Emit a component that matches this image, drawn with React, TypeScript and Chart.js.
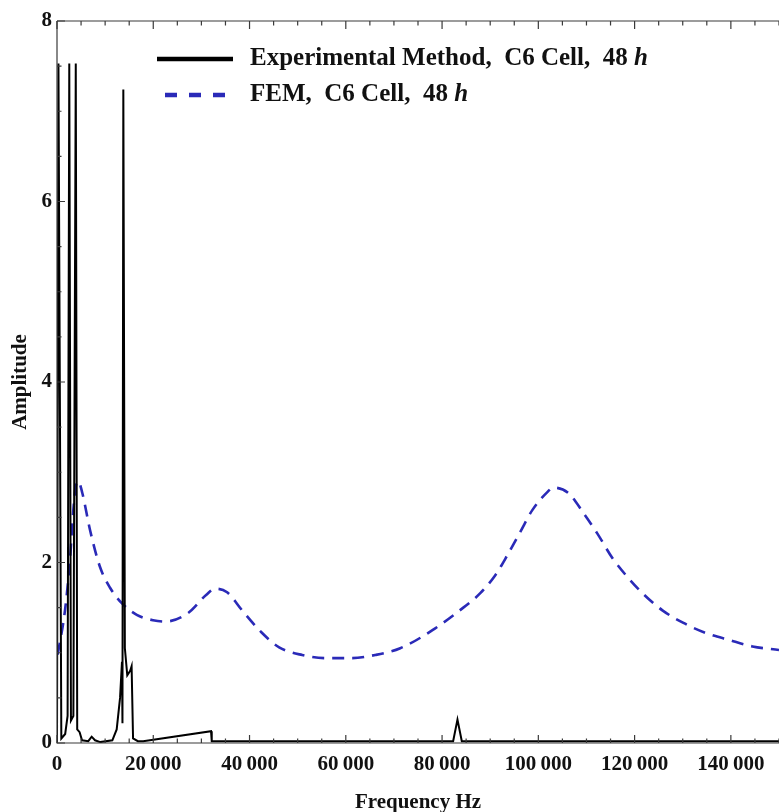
import React, { useEffect, useRef } from "react";
import { Chart, registerables } from "chart.js";

Chart.register(...registerables);

// Experimental Method, C6 Cell, 48 h
const expFreq = [0, 300, 900, 1700, 2200, 2550, 2900, 3400, 3900, 4200, 4700, 5200, 6500, 7200, 7900, 9000, 11500, 12400, 13100, 13500, 13600, 13780, 14100, 14600, 15200, 15500, 15800, 16800, 17900, 32000, 32150, 50000, 82300, 83200, 84100, 150000];
const expAmp = [0.0, 7.53, 0.05, 0.1, 0.3, 7.53, 0.25, 0.3, 7.53, 0.15, 0.12, 0.03, 0.02, 0.07, 0.03, 0.01, 0.03, 0.15, 0.5, 0.9, 0.22, 7.24, 1.05, 0.75, 0.8, 0.85, 0.05, 0.02, 0.02, 0.13, 0.02, 0.02, 0.02, 0.26, 0.02, 0.02];

// FEM, C6 Cell, 48 h
const femFreq = [150, 1660, 2700, 3390, 3950, 4430, 5260, 6860, 8940, 11020, 13450, 16570, 19960, 22450, 27230, 30980, 32850, 35340, 38460, 42410, 46150, 50940, 55930, 61120, 66110, 71310, 78000, 84410, 87940, 91060, 93560, 96260, 98750, 101870, 103120, 106240, 109360, 112270, 115380, 118500, 121830, 125780, 130150, 134720, 139710, 144490, 150000];
const femAmp = [0.98, 1.47, 2.03, 2.58, 2.86, 2.9, 2.77, 2.36, 1.95, 1.72, 1.55, 1.42, 1.36, 1.345, 1.44, 1.64, 1.71, 1.67, 1.47, 1.23, 1.06, 0.975, 0.94, 0.94, 0.975, 1.05, 1.25, 1.5, 1.66, 1.86, 2.08, 2.34, 2.58, 2.78, 2.83, 2.77, 2.55, 2.32, 2.05, 1.84, 1.65, 1.47, 1.33, 1.22, 1.14, 1.07, 1.03];

const xTickValues = [0, 20000, 40000, 60000, 80000, 100000, 120000, 140000];
const yTickValues = [0, 2, 4, 6, 8];
const xMinorStep = 5000;
const yMinorStep = 0.5;

const legendLabels = ["Experimental Method,  C6 Cell,  48 ", "FEM,  C6 Cell,  48 "];
const legendItalic = "h";

const FONT = "'Liberation Serif', 'Times New Roman', serif";
const BLUE = "#2a2ab8";

function fmt(v: number): string {
  return String(Math.round(v)).replace(/\B(?=(\d{3})+(?!\d))/g, "\u2009");
}

const framePlugin = {
  id: "frame",
  afterDatasetsDraw(chart: any) {
    const { ctx, chartArea } = chart;
    const xs = chart.scales.x;
    const ys = chart.scales.y;
    const { left, right, top, bottom } = chartArea;
    ctx.save();
    ctx.strokeStyle = "#3a3a3a";
    ctx.lineWidth = 1.2;
    ctx.beginPath();
    ctx.moveTo(left, top);
    ctx.lineTo(left, bottom);
    ctx.lineTo(right, bottom);
    ctx.moveTo(left, top);
    ctx.lineTo(right, top);
    ctx.stroke();
    ctx.beginPath();
    for (let v = 0; v <= xs.max + 1; v += xMinorStep) {
      const px = xs.getPixelForValue(v);
      if (px > right + 0.5) break;
      const major = xTickValues.includes(v);
      const len = major ? 8 : 4.5;
      ctx.moveTo(px, bottom);
      ctx.lineTo(px, bottom - len);
      ctx.moveTo(px, top);
      ctx.lineTo(px, top + len);
    }
    for (let v = 0; v <= ys.max + 0.001; v += yMinorStep) {
      const py = ys.getPixelForValue(v);
      const major = yTickValues.includes(v);
      const len = major ? 8 : 4.5;
      ctx.moveTo(left, py);
      ctx.lineTo(left + len, py);
    }
    ctx.stroke();

    // legend
    const rows = [
      { y: 59, dash: [] as number[], color: "#000000", label: legendLabels[0] },
      { y: 95, dash: [12, 12], color: BLUE, label: legendLabels[1] },
    ];
    for (const r of rows) {
      ctx.beginPath();
      ctx.setLineDash(r.dash);
      ctx.strokeStyle = r.color;
      ctx.lineWidth = 4.5;
      ctx.moveTo(r.dash.length ? 165 : 157, r.y);
      ctx.lineTo(233, r.y);
      ctx.stroke();
      ctx.setLineDash([]);
      ctx.fillStyle = "#111";
      ctx.textBaseline = "middle";
      ctx.textAlign = "left";
      ctx.font = `bold 25px ${FONT}`;
      ctx.fillText(r.label, 250, r.y);
      const w = ctx.measureText(r.label).width;
      ctx.font = `italic bold 25px ${FONT}`;
      ctx.fillText(legendItalic, 250 + w, r.y);
    }
    ctx.restore();
  },
};

export default function App() {
  const ref = useRef<HTMLCanvasElement | null>(null);
  useEffect(() => {
    if (!ref.current) return;
    const chart = new Chart(ref.current, {
      type: "line",
      data: {
        datasets: [
          {
            label: "Experimental Method, C6 Cell, 48 h",
            data: expFreq.map((x, i) => ({ x, y: expAmp[i] })),
            borderColor: "#000000",
            borderWidth: 2,
            pointRadius: 0,
            tension: 0,
            fill: false,
          },
          {
            label: "FEM, C6 Cell, 48 h",
            data: femFreq.map((x, i) => ({ x, y: femAmp[i] })),
            borderColor: BLUE,
            borderWidth: 2.6,
            borderDash: [12, 8],
            pointRadius: 0,
            cubicInterpolationMode: "monotone",
            fill: false,
          },
        ],
      },
      options: {
        animation: false,
        responsive: true,
        maintainAspectRatio: false,
        layout: { padding: { top: 21, left: 0, right: 0, bottom: 0 } },
        plugins: {
          legend: { display: false },
          tooltip: { enabled: false },
        },
        scales: {
          x: {
            type: "linear",
            min: 0,
            max: 150000,
            grid: { display: false, drawTicks: false, tickLength: 0 },
            border: { display: false },
            afterBuildTicks: (scale: any) => {
              scale.ticks = xTickValues.map((v) => ({ value: v }));
            },
            afterFit: (scale: any) => {
              scale.height = 69;
            },
            ticks: {
              autoSkip: false,
              maxRotation: 0,
              padding: 9,
              color: "#111",
              font: { family: FONT, size: 21, weight: "bold" },
              callback: (v: any) => fmt(Number(v)),
            },
            title: {
              display: true,
              text: "Frequency Hz",
              color: "#111",
              padding: { top: 0, bottom: -3 },
              font: { family: FONT, size: 21, weight: "bold" },
            },
          },
          y: {
            type: "linear",
            min: 0,
            max: 8,
            grid: { display: false, drawTicks: false, tickLength: 0 },
            border: { display: false },
            afterBuildTicks: (scale: any) => {
              scale.ticks = yTickValues.map((v) => ({ value: v }));
            },
            afterFit: (scale: any) => {
              scale.width = 57;
            },
            ticks: {
              padding: 5,
              color: "#111",
              font: { family: FONT, size: 21, weight: "bold" },
              callback: (v: any) => String(v),
            },
            title: {
              display: true,
              text: "Amplitude",
              color: "#111",
              padding: { top: 8, bottom: 0 },
              font: { family: FONT, size: 21, weight: "bold" },
            },
          },
        },
      },
      plugins: [framePlugin],
    } as any);
    return () => chart.destroy();
  }, []);
  return (
    <div style={{ position: "absolute", left: 0, top: 0, width: 779, height: 812, background: "#fff" }}>
      <canvas ref={ref} />
    </div>
  );
}
